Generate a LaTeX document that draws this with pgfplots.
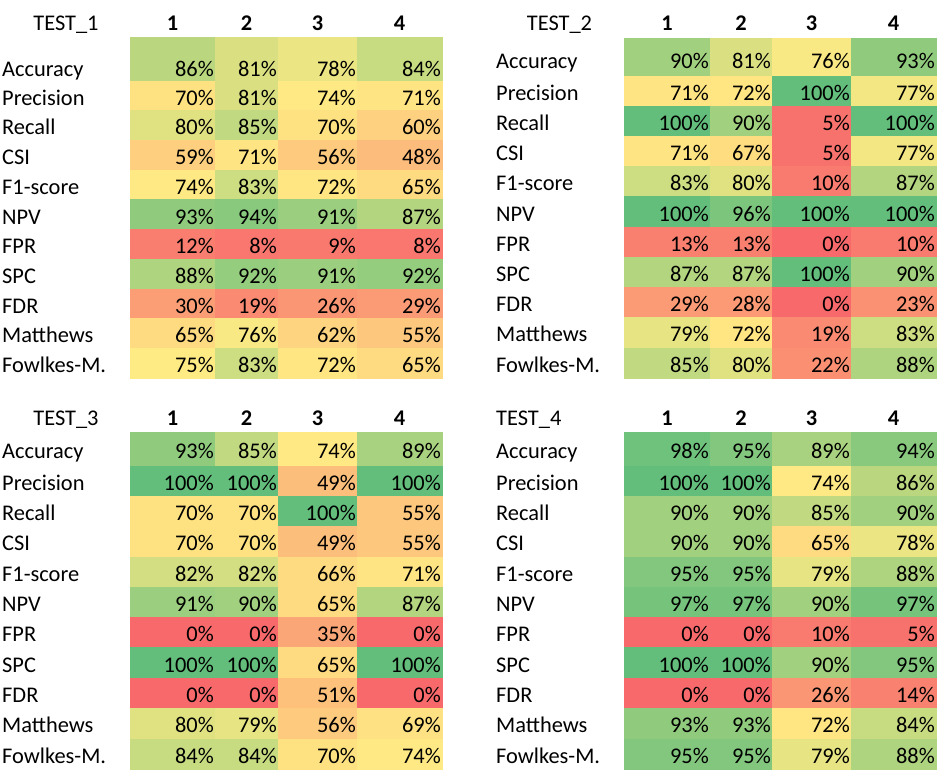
\documentclass[border=0pt]{standalone}
\usepackage{fontspec}
\setmainfont{Carlito}
\usepackage{pgfplots}
\usepackage{pgfplotstable}
\pgfplotsset{compat=1.18}
\pgfdeclareplotmark{nomark}{}
\newcommand\cf{\fontsize{22.4}{26}\selectfont}

% name, row centre, half height, text baseline, values of columns 1..4 (%)
\pgfplotstableread{
name yc hh yb c1 c2 c3 c4
Accuracy 59 22.2 76.5 86 81 78 84
Precision 95.85 15.0 105.2 70 81 74 71
Recall 125.55 15.0 134.9 80 85 70 60
CSI 155.25 15.0 164.6 59 71 56 48
F1-score 184.95 15.0 194.3 74 83 72 65
NPV 214.65 15.0 224.0 93 94 91 87
FPR 244.35 15.0 253.7 12 8 9 8
SPC 274.05 15.0 283.4 88 92 91 92
FDR 303.75 15.0 313.1 30 19 26 29
Matthews 333.45 15.0 342.8 65 76 62 55
Fowlkes-M. 363.15 14.85 372.5 75 83 72 65
}\tA
\pgfplotstableread{
name yc hh yb c1 c2 c3 c4
Accuracy 57 19.15 68.5 90 81 76 93
Precision 91.1 15.25 100.2 71 72 100 77
Recall 121.3 15.25 130.4 100 90 5 100
CSI 151.5 15.25 160.6 71 67 5 77
F1-score 181.7 15.25 190.8 83 80 10 87
NPV 211.9 15.25 221 100 96 100 100
FPR 242.1 15.25 251.2 13 13 0 10
SPC 272.3 15.25 281.4 87 87 100 90
FDR 302.5 15.25 311.6 29 28 0 23
Matthews 332.7 15.25 341.8 79 72 19 83
Fowlkes-M. 362.9 15.1 372 85 80 22 88
}\tB
\pgfplotstableread{
name yc hh yb c1 c2 c3 c4
Accuracy 449 17.15 458 93 85 74 89
Precision 481.15 15.3 490.3 100 100 49 100
Recall 511.45 15.3 520.6 70 70 100 55
CSI 541.75 15.3 550.9 70 70 49 55
F1-score 572.05 15.3 581.2 82 82 66 71
NPV 602.35 15.3 611.5 91 90 65 87
FPR 632.65 15.3 641.8 0 0 35 0
SPC 662.95 15.3 672.1 100 100 65 100
FDR 693.25 15.3 702.4 0 0 51 0
Matthews 723.55 15.3 732.7 80 79 56 69
Fowlkes-M. 753.85 15.15 763 84 84 70 74
}\tC
\pgfplotstableread{
name yc hh yb c1 c2 c3 c4
Accuracy 449 17.15 458 98 95 89 94
Precision 481.15 15.3 490.3 100 100 74 86
Recall 511.45 15.3 520.6 90 90 85 90
CSI 541.75 15.3 550.9 90 90 65 78
F1-score 572.05 15.3 581.2 95 95 79 88
NPV 602.35 15.3 611.5 97 97 90 97
FPR 632.65 15.3 641.8 0 0 10 5
SPC 662.95 15.3 672.1 100 100 90 95
FDR 693.25 15.3 702.4 0 0 26 14
Matthews 723.55 15.3 732.7 93 93 72 84
Fowlkes-M. 753.85 15.15 763 95 95 79 88
}\tD

% #1 table, #2 column, #3 right edge, #4 -width, #5 overlap, #6 label x
\newcommand\cellcol[6]{%
  \addplot[scatter, only marks, mark=nomark, point meta=explicit,
    visualization depends on={\thisrow{hh}\as\hh},
    scatter/@pre marker code/.append code={%
      \fill[mapped color] (axis direction cs:#4,-\hh) rectangle (axis direction cs:#5,\hh);}]
    table[x expr=#3, y=yc, meta=#2] {#1};
  \addplot[only marks, mark=nomark, point meta=explicit,
    nodes near coords={\pgfmathprintnumber{\pgfplotspointmeta}\%},
    every node near coord/.append style={anchor=base east, inner sep=0pt, text=black, font=\cf}]
    table[x expr=#6, y=yb, meta=#2] {#1};
}
\newcommand\rowlabels[2]{%
  \addplot[only marks, mark=nomark, point meta=explicit symbolic,
    nodes near coords={\pgfplotspointmeta},
    every node near coord/.append style={anchor=base west, inner sep=0pt, text=black, font=\cf}]
    table[x expr=#2, y=yb, meta=name] {#1};
}

\begin{document}
\begin{tikzpicture}
\begin{axis}[
  scale only axis, width=937pt, height=784pt,
  xmin=0, xmax=937, ymin=0, ymax=784, y dir=reverse,
  hide axis, clip=false,
  /pgf/number format/assume math mode=true,
  colormap={excel}{rgb255(0pt)=(248,105,107) rgb255(75pt)=(255,235,132) rgb255(100pt)=(99,190,123)},
  point meta min=0, point meta max=100,
]
\path (rel axis cs:0,0) rectangle (rel axis cs:1,1);

% TEST_1
\cellcol{\tA}{c1}{215}{-85}{0.4}{214}
\cellcol{\tA}{c2}{278}{-63}{0.4}{277}
\cellcol{\tA}{c3}{357}{-79}{0.4}{356}
\cellcol{\tA}{c4}{442}{-85}{0}{441}
\rowlabels{\tA}{2}
% TEST_2
\cellcol{\tB}{c1}{710}{-86}{0.4}{709}
\cellcol{\tB}{c2}{772}{-62}{0.4}{771}
\cellcol{\tB}{c3}{851}{-79}{0.4}{850}
\cellcol{\tB}{c4}{936}{-85}{0}{935}
\rowlabels{\tB}{496}
% TEST_3
\cellcol{\tC}{c1}{215}{-85}{0.4}{214}
\cellcol{\tC}{c2}{278}{-63}{0.4}{277}
\cellcol{\tC}{c3}{357}{-79}{0.4}{356}
\cellcol{\tC}{c4}{442}{-85}{0}{441}
\rowlabels{\tC}{2}
% TEST_4
\cellcol{\tD}{c1}{710}{-86}{0.4}{709}
\cellcol{\tD}{c2}{772}{-62}{0.4}{771}
\cellcol{\tD}{c3}{851}{-79}{0.4}{850}
\cellcol{\tD}{c4}{936}{-85}{0}{935}
\rowlabels{\tD}{496}

% headers
\node[anchor=base, inner sep=0pt, font=\cf] at (axis cs:66,31) {TEST\_1};
\node[anchor=base, inner sep=0pt, font=\cf] at (axis cs:559.5,31) {TEST\_2};
\node[anchor=base, inner sep=0pt, font=\cf] at (axis cs:66,425) {TEST\_3};
\node[anchor=base west, inner sep=0pt, font=\cf] at (axis cs:496,425) {TEST\_4};
\node[anchor=base, inner sep=0pt, font=\cf\bfseries] at (axis cs:172.5,31) {1};
\node[anchor=base, inner sep=0pt, font=\cf\bfseries] at (axis cs:246.5,31) {2};
\node[anchor=base, inner sep=0pt, font=\cf\bfseries] at (axis cs:317.5,31) {3};
\node[anchor=base, inner sep=0pt, font=\cf\bfseries] at (axis cs:399.5,31) {4};
\node[anchor=base, inner sep=0pt, font=\cf\bfseries] at (axis cs:667,31) {1};
\node[anchor=base, inner sep=0pt, font=\cf\bfseries] at (axis cs:741,31) {2};
\node[anchor=base, inner sep=0pt, font=\cf\bfseries] at (axis cs:811.5,31) {3};
\node[anchor=base, inner sep=0pt, font=\cf\bfseries] at (axis cs:893.5,31) {4};
\node[anchor=base, inner sep=0pt, font=\cf\bfseries] at (axis cs:172.5,425) {1};
\node[anchor=base, inner sep=0pt, font=\cf\bfseries] at (axis cs:246.5,425) {2};
\node[anchor=base, inner sep=0pt, font=\cf\bfseries] at (axis cs:317.5,425) {3};
\node[anchor=base, inner sep=0pt, font=\cf\bfseries] at (axis cs:399.5,425) {4};
\node[anchor=base, inner sep=0pt, font=\cf\bfseries] at (axis cs:667,425) {1};
\node[anchor=base, inner sep=0pt, font=\cf\bfseries] at (axis cs:741,425) {2};
\node[anchor=base, inner sep=0pt, font=\cf\bfseries] at (axis cs:811.5,425) {3};
\node[anchor=base, inner sep=0pt, font=\cf\bfseries] at (axis cs:893.5,425) {4};
\end{axis}
\end{tikzpicture}
\end{document}
